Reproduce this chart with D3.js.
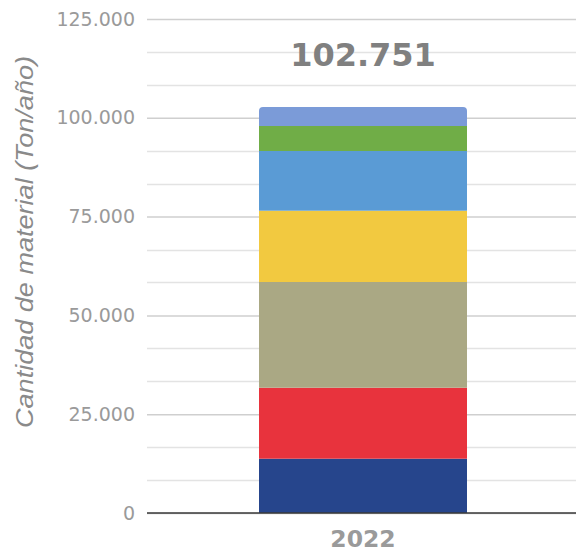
<!DOCTYPE html>
<html>
<head>
<meta charset="utf-8">
<script src="https://cdn.jsdelivr.net/npm/d3@7"></script>
<style>
  body { margin: 0; background: #fff; }
  svg { display: block; }
</style>
</head>
<body>
<div id="chart"></div>
<script>
// values (Ton/año), bottom to top
const categories = ['2022'];
const seriesNames = ['s1', 's2', 's3', 's4', 's5', 's6', 's7'];
const seriesValues = [13740, 17966, 26746, 18042, 15106, 6326, 4825];
const seriesColors = ['#26458c', '#e8333d', '#aaa884', '#f2c940', '#5a9bd5', '#70ad47', '#7b9bd8'];
const yTicks = [0, 25000, 50000, 75000, 100000, 125000];
const totalLabel = '102.751';

const width = 576, height = 553;
const margin = {top: 19, right: -3, bottom: 40, left: 147};

const svg = d3.select('#chart').append('svg')
    .attr('width', width)
    .attr('height', height);

const y = d3.scaleLinear()
    .domain([0, 125000])
    .range([height - margin.bottom, margin.top]);

const x = d3.scaleBand()
    .domain(categories)
    .range([margin.left, width - margin.right])
    .paddingInner(0)
    .paddingOuter(0.5385);

const fmt = v => d3.format(',')(v).replace(/,/g, '.');

// minor grid (3 divisions per major step)
const minor = d3.range(0, 125001, 25000 / 3).filter(v => Math.abs(v % 25000) > 1 && Math.abs(v % 25000 - 25000) > 1);
svg.append('g')
    .selectAll('line')
    .data(minor)
    .join('line')
    .attr('x1', margin.left)
    .attr('x2', width)
    .attr('y1', d => Math.round(y(d)) + 0.5)
    .attr('y2', d => Math.round(y(d)) + 0.5)
    .attr('stroke', '#e3e3e3')
    .attr('stroke-width', 1.5);

// y axis with major grid
const yAxis = svg.append('g')
    .attr('transform', `translate(${margin.left},0)`)
    .call(d3.axisLeft(y).tickValues(yTicks).tickFormat(fmt)
        .tickSize(-(width - margin.left)).tickPadding(12));
yAxis.select('.domain').remove();
yAxis.selectAll('.tick line')
    .attr('stroke', '#cfcfcf')
    .attr('stroke-width', 1.5);
yAxis.selectAll('.tick text')
    .attr('fill', '#9a9a9a')
    .style('font-family', '"DejaVu Sans", Verdana, sans-serif')
    .style('font-size', '19px');

// stacked bar
const stackData = [Object.fromEntries(seriesNames.map((k, i) => [k, seriesValues[i]]))];
const stacked = d3.stack().keys(seriesNames)(stackData);
const stackTop = d3.sum(seriesValues);

svg.append('clipPath')
    .attr('id', 'barclip')
    .append('rect')
    .attr('x', x(categories[0]))
    .attr('y', y(stackTop))
    .attr('width', x.bandwidth())
    .attr('height', y(0) - y(stackTop) + 10)
    .attr('rx', 4);

svg.append('g')
    .attr('clip-path', 'url(#barclip)')
    .selectAll('rect')
    .data(stacked)
    .join('rect')
    .attr('x', x(categories[0]))
    .attr('y', d => y(d[0][1]))
    .attr('height', d => y(d[0][0]) - y(d[0][1]))
    .attr('width', x.bandwidth())
    .attr('fill', (d, i) => seriesColors[i]);

// baseline
svg.append('line')
    .attr('x1', margin.left)
    .attr('x2', width)
    .attr('y1', y(0))
    .attr('y2', y(0))
    .attr('stroke', '#3a3a3a')
    .attr('stroke-width', 1.5);

// total label
svg.append('text')
    .attr('x', x(categories[0]) + x.bandwidth() / 2)
    .attr('y', 66)
    .attr('text-anchor', 'middle')
    .attr('fill', '#808080')
    .style('font-family', '"DejaVu Sans", Verdana, sans-serif')
    .style('font-weight', 'bold')
    .style('font-size', '32px')
    .text(totalLabel);

// category label
svg.append('text')
    .attr('x', x(categories[0]) + x.bandwidth() / 2)
    .attr('y', 547)
    .attr('text-anchor', 'middle')
    .attr('fill', '#9a9a9a')
    .style('font-family', '"DejaVu Sans", Verdana, sans-serif')
    .style('font-weight', 'bold')
    .style('font-size', '23.5px')
    .text(categories[0]);

// y axis title
svg.append('text')
    .attr('transform', `translate(33,242) rotate(-90)`)
    .attr('text-anchor', 'middle')
    .attr('fill', '#8a8a8a')
    .attr('textLength', 372)
    .attr('lengthAdjust', 'spacingAndGlyphs')
    .style('font-family', '"Liberation Sans", Arial, sans-serif')
    .style('font-style', 'italic')
    .style('font-size', '24px')
    .text('Cantidad de material (Ton/año)');
</script>
</body>
</html>
